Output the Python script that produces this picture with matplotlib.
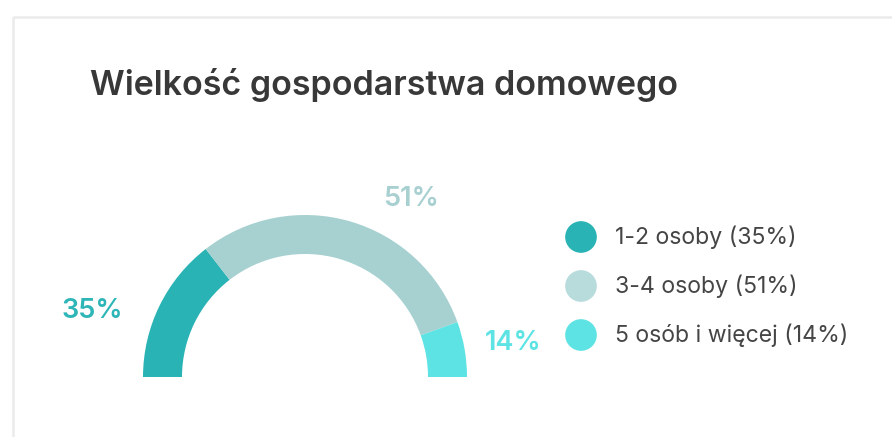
import matplotlib
matplotlib.use("Agg")
import matplotlib.pyplot as plt
from matplotlib.patches import Rectangle

plt.rcParams["font.family"] = ["Inter", "DejaVu Sans"]

TITLE = "Wielkość gospodarstwa domowego"
categories = ["1-2 osoby", "3-4 osoby", "5 osób i więcej"]
percent = [35, 51, 14]
# share of the half circle each arc takes, as drawn in the picture
arc_share = [29, 60, 11]
colors = ["#29b3b5", "#a7d0d0", "#5de3e3"]
legend_colors = ["#29b3b5", "#b8dbdc", "#5de3e3"]
label_colors = ["#2db5b7", "#a8d0d0", "#5de3e3"]

W, H = 892, 437
fig = plt.figure(figsize=(W / 100, H / 100), dpi=100)

# overlay in pixel coordinates: card border, title, labels, legend
bg = fig.add_axes([0, 0, 1, 1])
bg.set_xlim(0, W); bg.set_ylim(H, 0); bg.axis("off")
bg.add_patch(Rectangle((13, 17), 900, 440, fill=False, edgecolor="#ebebeb", lw=1.8))
bg.text(90, 95, TITLE, fontsize=24.5, fontweight="semibold", color="#383838", va="baseline")

# half donut
cx, cy, r_out, r_in = 305, 377, 162, 123
pax = fig.add_axes([(cx - r_out) / W, (H - cy) / H, 2 * r_out / W, r_out / H])
pax.pie(arc_share + [sum(arc_share)], colors=colors + ["none"], startangle=180,
        counterclock=False, radius=1,
        wedgeprops=dict(width=(r_out - r_in) / r_out, edgecolor="none", linewidth=0))
pax.set_xlim(-1, 1); pax.set_ylim(0, 1); pax.set_aspect("auto"); pax.axis("off")

# percentage labels around the arc
label_pos = [(92, 311), (411, 199), (513, 343)]
for (x, y), p, c in zip(label_pos, percent, label_colors):
    bg.text(x, y, f"{p}%", fontsize=19.5, fontweight="semibold", color=c, ha="center", va="center")

# legend
for i, (cat, p, c) in enumerate(zip(categories, percent, legend_colors)):
    y = 237 + i * 49
    bg.scatter([581], [y], s=520, color=c, edgecolors="none")
    bg.text(615, y, f"{cat} ({p}%)", fontsize=16.6, color="#454545", va="center")

fig.savefig("out.png", dpi=100)
